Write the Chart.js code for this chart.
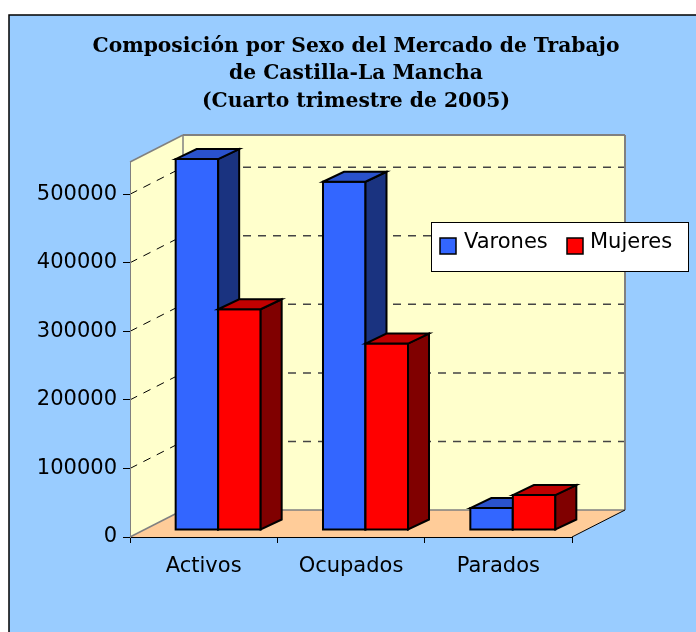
<!DOCTYPE html>
<html><head><meta charset="utf-8">
<script src="https://cdn.jsdelivr.net/npm/chart.js@4"></script>
<style>html,body{margin:0;padding:0;background:#fff;}canvas{display:block;}</style>
</head><body>
<canvas id="c" width="696" height="632"></canvas>
<script>
// ---- data ----
const categories = ['Activos', 'Ocupados', 'Parados'];
const seriesNames = ['Varones', 'Mujeres'];
const varones = [541000, 508000, 32000];
const mujeres = [322000, 272000, 51000];
const yTicks = [0, 100000, 200000, 300000, 400000, 500000];
const titleLines = ['Composición por Sexo del Mercado de Trabajo', 'de Castilla-La Mancha', '(Cuarto trimestre de 2005)'];

// ---- style ----
const DEPTH = {dx: 53, dy: 27};
const BAR_SHIFT = {dx: 14.5, dy: 7};
const BAR_DEPTH = {dx: 21, dy: 10};
const palette = [
  {front: '#3366FF', side: '#1A3380', top: '#2A52CC'},
  {front: '#FF0000', side: '#800000', top: '#C00000'}
];
const SANS = '"DejaVu Sans", sans-serif';

function poly(ctx, pts, fill, stroke, lw) {
  ctx.beginPath();
  ctx.moveTo(pts[0][0], pts[0][1]);
  for (let i = 1; i < pts.length; i++) ctx.lineTo(pts[i][0], pts[i][1]);
  ctx.closePath();
  if (fill) { ctx.fillStyle = fill; ctx.fill(); }
  if (stroke) { ctx.strokeStyle = stroke; ctx.lineWidth = lw || 1; ctx.stroke(); }
}
function line(ctx, x1, y1, x2, y2, color, lw) {
  ctx.beginPath(); ctx.moveTo(x1, y1); ctx.lineTo(x2, y2);
  ctx.strokeStyle = color; ctx.lineWidth = lw; ctx.stroke();
}

const scene3d = {
  id: 'scene3d',
  beforeDraw(chart) {
    const ctx = chart.ctx, a = chart.chartArea, y = chart.scales.y;
    const L = a.left, R = a.right, T = a.top, B = a.bottom, dx = DEPTH.dx, dy = DEPTH.dy;
    ctx.save();
    ctx.fillStyle = '#fff'; ctx.fillRect(0, 0, chart.width, chart.height);
    ctx.fillStyle = '#99CCFF'; ctx.fillRect(9, 15, 720, 700);
    ctx.strokeStyle = '#000'; ctx.lineWidth = 1.5; ctx.strokeRect(9, 15, 720, 700);
    // walls and floor
    poly(ctx, [[L + dx, T - dy], [R + dx, T - dy], [R + dx, B - dy], [L + dx, B - dy]], '#FFFFCC');
    poly(ctx, [[L, T], [L + dx, T - dy], [L + dx, B - dy], [L, B]], '#FFFFCC');
    poly(ctx, [[L, B], [R, B], [R + dx, B - dy], [L + dx, B - dy]], '#FFCC99');
    // dashed gridlines
    ctx.setLineDash([8, 7]);
    yTicks.forEach(v => {
      if (v <= 0) return;
      const py = y.getPixelForValue(v);
      line(ctx, L + dx, py - dy, R + dx, py - dy, '#444', 1.5);
      line(ctx, L, py, L + dx, py - dy, '#000', 1);
    });
    ctx.setLineDash([]);
    // edges
    line(ctx, L + dx, T - dy, R + dx, T - dy, '#808080', 2);
    line(ctx, R + dx, T - dy, R + dx, B - dy, '#808080', 2);
    line(ctx, L + dx, T - dy, L + dx, B - dy, '#808080', 1.5);
    line(ctx, L, T, L + dx, T - dy, '#808080', 1.5);
    line(ctx, L + dx, B - dy, R + dx, B - dy, '#808080', 1.5);
    line(ctx, L, B, L + dx, B - dy, '#808080', 1.5);
    line(ctx, R, B, R + dx, B - dy, '#000', 1);
    ctx.restore();
  },
  beforeDatasetsDraw(chart) {
    chart.ctx.save();
    chart.ctx.translate(BAR_SHIFT.dx, -BAR_SHIFT.dy);
  },
  afterDatasetsDraw(chart) {
    const ctx = chart.ctx;
    ctx.lineJoin = 'miter';
    chart.data.datasets.forEach((ds, d) => {
      const c = palette[d];
      chart.getDatasetMeta(d).data.forEach(el => {
        const p = el.getProps(['x', 'y', 'base', 'width'], true);
        const l = p.x - p.width / 2, r = p.x + p.width / 2, t = p.y, b = p.base;
        const ddx = BAR_DEPTH.dx, ddy = BAR_DEPTH.dy;
        poly(ctx, [[l, t], [r, t], [r, b], [l, b]], c.front, '#000', 2);
        poly(ctx, [[r, t], [r + ddx, t - ddy], [r + ddx, b - ddy], [r, b]], c.side, '#000', 2);
        poly(ctx, [[l, t], [l + ddx, t - ddy], [r + ddx, t - ddy], [r, t]], c.top, '#000', 2);
      });
    });
    ctx.restore();
  }
};

const boxLegend = {
  id: 'boxLegend',
  afterDraw(chart) {
    const ctx = chart.ctx;
    ctx.save();
    ctx.fillStyle = '#fff'; ctx.fillRect(431.5, 222.5, 257, 49);
    ctx.strokeStyle = '#000'; ctx.lineWidth = 1; ctx.strokeRect(431.5, 222.5, 257, 49);
    const items = [{bx: 440, tx: 464}, {bx: 567, tx: 590}];
    chart.data.datasets.forEach((ds, i) => {
      const it = items[i];
      ctx.fillStyle = palette[i].front;
      ctx.fillRect(it.bx, 238, 16, 16);
      ctx.strokeStyle = '#000'; ctx.lineWidth = 1.5; ctx.strokeRect(it.bx, 238, 16, 16);
      ctx.fillStyle = '#000';
      ctx.font = '21px ' + SANS;
      ctx.textBaseline = 'alphabetic'; ctx.textAlign = 'left';
      ctx.fillText(ds.label, it.tx, 248);
    });
    ctx.restore();
  }
};

new Chart(document.getElementById('c'), {
  type: 'bar',
  data: {
    labels: categories,
    datasets: [
      {label: seriesNames[0], data: varones, backgroundColor: palette[0].front, borderColor: '#000', borderWidth: 1, clip: false},
      {label: seriesNames[1], data: mujeres, backgroundColor: palette[1].front, borderColor: '#000', borderWidth: 1, clip: false}
    ]
  },
  options: {
    responsive: false, animation: false, devicePixelRatio: 1, events: [],
    layout: {padding: {left: 16, right: 0, top: 0, bottom: 0}},
    datasets: {bar: {barPercentage: 1, categoryPercentage: 0.577}},
    plugins: {
      legend: {display: false},
      tooltip: {enabled: false},
      title: {
        display: true, text: titleLines, color: '#000',
        font: {family: '"DejaVu Serif", serif', size: 20.3, weight: 'bold', lineHeight: 27.7 / 20.3},
        padding: {top: 32.45, bottom: 46.45}
      }
    },
    scales: {
      x: {
        grid: {drawOnChartArea: false, drawTicks: true, tickLength: 6, color: '#000', offset: true},
        border: {display: true, color: '#000', width: 1},
        ticks: {color: '#000', font: {family: SANS, size: 21}, padding: 10.6, maxRotation: 0, autoSkip: false},
        afterFit(s) { s.height = 95; }
      },
      y: {
        min: 0, max: 547000, bounds: 'data',
        grid: {drawOnChartArea: false, drawTicks: true, tickLength: 7, color: '#000'},
        border: {display: true, color: '#808080', width: 1},
        ticks: {color: '#000', font: {family: SANS, size: 21}, padding: 6, callback: v => String(v)},
        afterBuildTicks(s) { s.ticks = yTicks.map(v => ({value: v})); },
        afterFit(s) { s.width = 114; }
      },
      yR: {
        position: 'right', display: true,
        grid: {display: false}, border: {display: false}, ticks: {display: false},
        afterFit(s) { s.width = 124; }
      }
    }
  },
  plugins: [scene3d, boxLegend]
});
</script>
</body></html>
